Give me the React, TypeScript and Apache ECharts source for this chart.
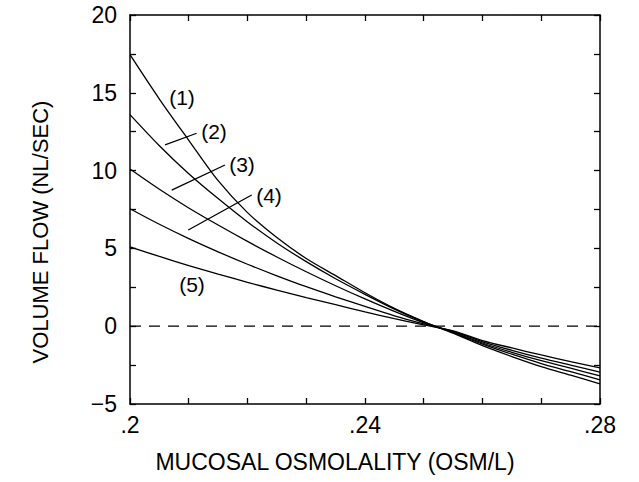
import React, { useEffect, useRef } from "react";
import * as echarts from "echarts";

// x positions (mucosal osmolality, OSM/L)
const xValues = [0.2, 0.205, 0.21, 0.215, 0.22, 0.225, 0.23, 0.235, 0.24, 0.245, 0.25, 0.255, 0.26, 0.265, 0.27, 0.275, 0.28];

// volume flow (NL/SEC)
const curve1 = [17.45, 14.6, 11.95, 9.35, 7.3, 5.7, 4.35, 3.25, 2.15, 1.15, 0.3, -0.45, -1.25, -1.95, -2.6, -3.15, -3.7];
const curve2 = [13.6, 11.6, 9.8, 8.2, 6.7, 5.35, 4.15, 3.05, 2.05, 1.1, 0.28, -0.42, -1.15, -1.8, -2.4, -2.92, -3.45];
const curve3 = [10.1, 8.8, 7.6, 6.5, 5.45, 4.45, 3.5, 2.6, 1.75, 0.95, 0.22, -0.38, -1.08, -1.68, -2.22, -2.7, -3.2];
const curve4 = [7.55, 6.55, 5.63, 4.78, 3.98, 3.24, 2.54, 1.89, 1.27, 0.67, 0.15, -0.33, -1.0, -1.55, -2.05, -2.5, -2.95];
const curve5 = [5.1, 4.48, 3.9, 3.35, 2.82, 2.32, 1.84, 1.38, 0.92, 0.48, 0.08, -0.3, -0.92, -1.4, -1.85, -2.28, -2.68];

const curves = [curve1, curve2, curve3, curve4, curve5];

// reference line
const zeroLine = [[0.2, 0], [0.28, 0]];

// curve labels (data coordinates)
const curveLabels = [
  { text: "(1)", x: 0.20885, y: 14.7 },
  { text: "(2)", x: 0.2143, y: 12.54 },
  { text: "(3)", x: 0.21906, y: 10.42 },
  { text: "(4)", x: 0.22366, y: 8.37 },
  { text: "(5)", x: 0.21055, y: 2.71 },
];

// leader lines (data coordinates)
const leaders = [
  [[0.20596, 11.65], [0.21135, 12.4]],
  [[0.2071, 8.75], [0.21617, 10.36]],
  [[0.20992, 6.18], [0.22071, 8.43]],
];

const X_MIN = 0.2;
const X_MAX = 0.28;
const X_STEP = 0.01;
const Y_MIN = -5;
const Y_MAX = 20;
const Y_STEP = 2.5;

const FONT = "'Liberation Sans', Arial, Helvetica, sans-serif";

export default function App() {
  const ref = useRef<HTMLDivElement>(null);

  useEffect(() => {
    if (!ref.current) return;
    const chart = echarts.init(ref.current, undefined, { renderer: "svg" });

    const axisLine = { show: true, onZero: false, lineStyle: { color: "#000", width: 1.5 } };
    const axisTick = { show: true, inside: true, length: 6, lineStyle: { color: "#000", width: 1.3 } };

    const xFmt = (v: number) => {
      const k = Math.round(v * 100);
      if (k % 4 !== 0) return "";
      return (k / 100).toString().replace("0.", ".");
    };
    const yFmt = (v: number) => {
      if (Math.abs(v % 5) > 1e-9) return "";
      return v < 0 ? "\u2212" + Math.abs(v) : String(v);
    };

    const lineSeries: any[] = curves.map((c, idx) => ({
      type: "line",
      name: "c" + (idx + 1),
      data: xValues.map((x, i) => [x, c[i]]),
      showSymbol: false,
      smooth: 0.3,
      lineStyle: { color: "#000", width: 1.3 },
      xAxisIndex: 0,
      yAxisIndex: 0,
      silent: true,
    }));

    const zeroSeries = {
      type: "line",
      data: zeroLine,
      showSymbol: false,
      lineStyle: { color: "#000", width: 1.3, type: [11, 8] },
      silent: true,
    };

    const leaderSeries = leaders.map((seg) => ({
      type: "line",
      data: seg,
      showSymbol: false,
      lineStyle: { color: "#000", width: 1.3 },
      silent: true,
    }));

    const titleGraphics: any[] = [
      {
        type: "text",
        x: 40,
        y: 232,
        rotation: Math.PI / 2,
        style: {
          text: "VOLUME FLOW (NL/SEC)",
          fontSize: 22,
          fontFamily: FONT,
          fill: "#000",
          align: "center",
          verticalAlign: "middle",
          textAlign: "center",
          textVerticalAlign: "middle",
        },
      },
      {
        type: "text",
        x: 335,
        y: 462,
        style: {
          text: "MUCOSAL OSMOLALITY (OSM/L)",
          fontSize: 23,
          fontFamily: FONT,
          fill: "#000",
          align: "center",
          verticalAlign: "middle",
          textAlign: "center",
          textVerticalAlign: "middle",
        },
      },
    ];

    chart.setOption({
      animation: false,
      backgroundColor: "#fff",
      grid: { left: 130, top: 15, width: 470, height: 389, containLabel: false },
      xAxis: [
        {
          type: "value",
          min: X_MIN,
          max: X_MAX,
          interval: X_STEP,
          position: "bottom",
          axisLine,
          axisTick,
          axisLabel: { formatter: xFmt, fontSize: 23, color: "#000", margin: 9, fontFamily: FONT },
          splitLine: { show: false },
        },
        {
          type: "value",
          min: X_MIN,
          max: X_MAX,
          interval: X_STEP,
          position: "top",
          axisLine,
          axisTick,
          axisLabel: { show: false },
          splitLine: { show: false },
        },
      ],
      yAxis: [
        {
          type: "value",
          min: Y_MIN,
          max: Y_MAX,
          interval: Y_STEP,
          position: "left",
          axisLine,
          axisTick,
          axisLabel: { formatter: yFmt, fontSize: 23, color: "#000", margin: 13, fontFamily: FONT },
          splitLine: { show: false },
        },
        {
          type: "value",
          min: Y_MIN,
          max: Y_MAX,
          interval: Y_STEP,
          position: "right",
          axisLine,
          axisTick,
          axisLabel: { show: false },
          splitLine: { show: false },
        },
      ],
      graphic: titleGraphics,
      series: [...lineSeries, zeroSeries, ...leaderSeries],
    });

    // curve labels placed through the chart's own coordinate conversion
    const labelGraphics = curveLabels.map((l) => {
      const p = chart.convertToPixel({ gridIndex: 0 }, [l.x, l.y]) as number[];
      return {
        type: "text",
        x: p[0],
        y: p[1],
        style: {
          text: l.text,
          fontSize: 21,
          fontFamily: FONT,
          fill: "#000",
          align: "center",
          verticalAlign: "middle",
          textAlign: "center",
          textVerticalAlign: "middle",
        },
      };
    });
    chart.setOption({ graphic: [...titleGraphics, ...labelGraphics] });

    return () => chart.dispose();
  }, []);

  return (
    <div
      ref={ref}
      style={{ position: "fixed", left: 0, top: 0, width: 639, height: 482, background: "#fff" }}
    />
  );
}
